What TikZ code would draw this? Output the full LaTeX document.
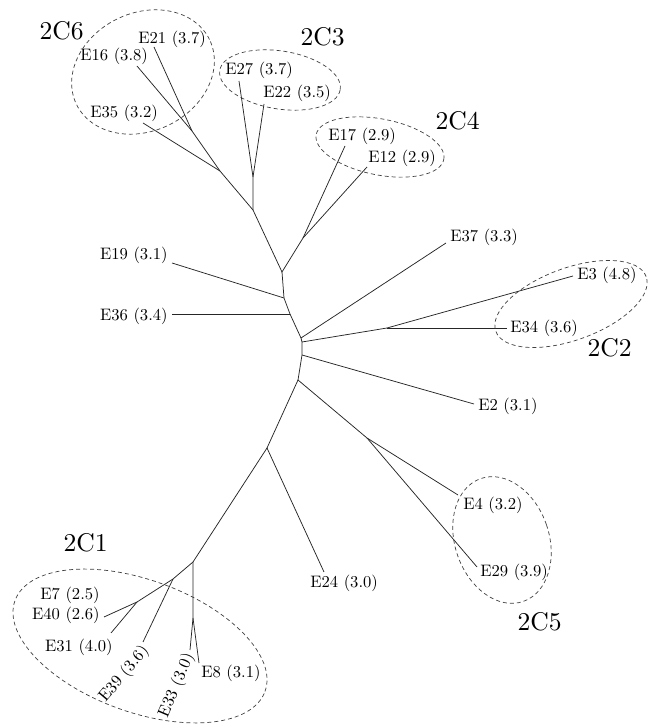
\documentclass[tikz,border=0pt]{standalone}
\begin{document}
\begin{tikzpicture}[x=1pt,y=1pt,
  branch/.style={line width=0.75pt, black!85},
  leaf/.style={font=\fontsize{10}{12}\selectfont, inner sep=0pt, scale=1.66, transform shape},
  clade/.style={font=\fontsize{10}{12}\selectfont, inner sep=0pt, scale=2.56, transform shape},
  group/.style={draw=black!75, line width=0.7pt, dash pattern=on 4pt off 3pt}]
\useasboundingbox (0,0) rectangle (652,724);
% junctions
\coordinate (j1) at (253,514);
\coordinate (j2) at (253,547);
\coordinate (b6) at (220,553);
\coordinate (c6) at (192,593);
\coordinate (j3) at (282,452);
\coordinate (j4) at (303,486);
\coordinate (j5) at (284,426);
\coordinate (j6) at (290,410);
\coordinate (j7) at (301,386);
\coordinate (j8) at (302,382);
\coordinate (k2) at (387,396);
\coordinate (j9) at (302,369);
\coordinate (j10) at (298,344);
\coordinate (k5) at (367,286);
\coordinate (j11) at (267,276);
\coordinate (j12) at (193,162);
\coordinate (k1a) at (173,145);
\coordinate (k1b) at (137,122);
\coordinate (k1c) at (193,106);
% leaf ends
\coordinate (e27) at (239,643);
\coordinate (e22) at (264,620);
\coordinate (e16) at (137,658);
\coordinate (e21) at (154,677);
\coordinate (e35) at (143,601);
\coordinate (e17) at (345,578);
\coordinate (e12) at (367,557);
\coordinate (e19) at (172,461);
\coordinate (e36) at (172,410);
\coordinate (e37) at (446,481);
\coordinate (e3) at (573,448);
\coordinate (e34) at (507,396);
\coordinate (e2) at (474,320);
\coordinate (e4) at (458,229);
\coordinate (e29) at (477,157);
\coordinate (e24) at (324,152);
\coordinate (e40) at (104,107);
\coordinate (e31) at (111,91);
\coordinate (e39) at (143,82);
\coordinate (e33) at (190,74);
\coordinate (e8) at (199,61);
% branches
\draw[branch] (j1) -- (j2) -- (e27);
\draw[branch] (j2) -- (e22);
\draw[branch] (j1) -- (b6) -- (c6) -- (e16);
\draw[branch] (c6) -- (e21);
\draw[branch] (b6) -- (e35);
\draw[branch] (j1) -- (j3) -- (j4) -- (e17);
\draw[branch] (j4) -- (e12);
\draw[branch] (j3) -- (j5) -- (j6) -- (j7) -- (j8) -- (j9) -- (j10);
\draw[branch] (j5) -- (e19);
\draw[branch] (j6) -- (e36);
\draw[branch] (j7) -- (e37);
\draw[branch] (j8) -- (k2) -- (e3);
\draw[branch] (k2) -- (e34);
\draw[branch] (j9) -- (e2);
\draw[branch] (j10) -- (k5) -- (e4);
\draw[branch] (k5) -- (e29);
\draw[branch] (j10) -- (j11) -- (e24);
\draw[branch] (j11) -- (j12) -- (k1a) -- (k1b) -- (e40);
\draw[branch] (k1b) -- (e31);
\draw[branch] (k1a) -- (e39);
\draw[branch] (j12) -- (k1c) -- (e33);
\draw[branch] (k1c) -- (e8);
% leaf labels
\node[leaf, anchor=west] (l21) at (138,685) {E21 (3.7)};
\node[leaf, anchor=west] (l16) at (80,668) {E16 (3.8)};
\node[leaf, anchor=west] (l35) at (90,611) {E35 (3.2)};
\node[leaf, anchor=west] (l27) at (225,654) {E27 (3.7)};
\node[leaf, anchor=west] (l22) at (263,631) {E22 (3.5)};
\node[leaf, anchor=west] (l17) at (328,588) {E17 (2.9)};
\node[leaf, anchor=west] (l12) at (368,566) {E12 (2.9)};
\node[leaf, anchor=west] (l37) at (450,487) {E37 (3.3)};
\node[leaf, anchor=west] (l3) at (577,449) {E3 (4.8)};
\node[leaf, anchor=west] (l34) at (510,396) {E34 (3.6)};
\node[leaf, anchor=east] (l19) at (168,469) {E19 (3.1)};
\node[leaf, anchor=east] (l36) at (168,408) {E36 (3.4)};
\node[leaf, anchor=west] (l2) at (478,318) {E2 (3.1)};
\node[leaf, anchor=west] (l4) at (463,219) {E4 (3.2)};
\node[leaf, anchor=west] (l29) at (480,152) {E29 (3.9)};
\node[leaf, anchor=west] (l24) at (310,141) {E24 (3.0)};
\node[leaf, anchor=east] (l7) at (100,129) {E7 (2.5)};
\node[leaf, anchor=east] (l40) at (100,109) {E40 (2.6)};
\node[leaf, anchor=east] (l31) at (113,77) {E31 (4.0)};
\node[leaf, anchor=east, rotate=50] (l39) at (146,76) {E39 (3.6)};
\node[leaf, anchor=east, rotate=67] (l33) at (190,70) {E33 (3.0)};
\node[leaf, anchor=west] (l8) at (201,51) {E8 (3.1)};
% clade labels
\node[clade, anchor=west] (c2c6) at (39,693) {2C6};
\node[clade, anchor=west] (c2c3) at (300,687) {2C3};
\node[clade, anchor=west] (c2c4) at (435,603) {2C4};
\node[clade, anchor=west] (c2c2) at (587,376) {2C2};
\node[clade, anchor=west] (c2c5) at (517,102) {2C5};
\node[clade, anchor=west] (c2c1) at (63,181) {2C1};
% clade outlines
\draw[group, rotate around={26:(143,652)}] (143,652) ellipse [x radius=74pt, y radius=59pt];
\draw[group, rotate around={-9:(280,644)}] (280,644) ellipse [x radius=61pt, y radius=29pt];
\draw[group, rotate around={-11:(380,577)}] (380,577) ellipse [x radius=65pt, y radius=28pt];
\draw[group, rotate around={20:(571,420)}] (571,420) ellipse [x radius=80pt, y radius=36pt];
\draw[group, rotate around={19:(502,184)}] (502,184) ellipse [x radius=47pt, y radius=65pt];
\draw[group, rotate around={-20:(140,78)}] (140,78) ellipse [x radius=133pt, y radius=66pt];
\end{tikzpicture}
\end{document}
